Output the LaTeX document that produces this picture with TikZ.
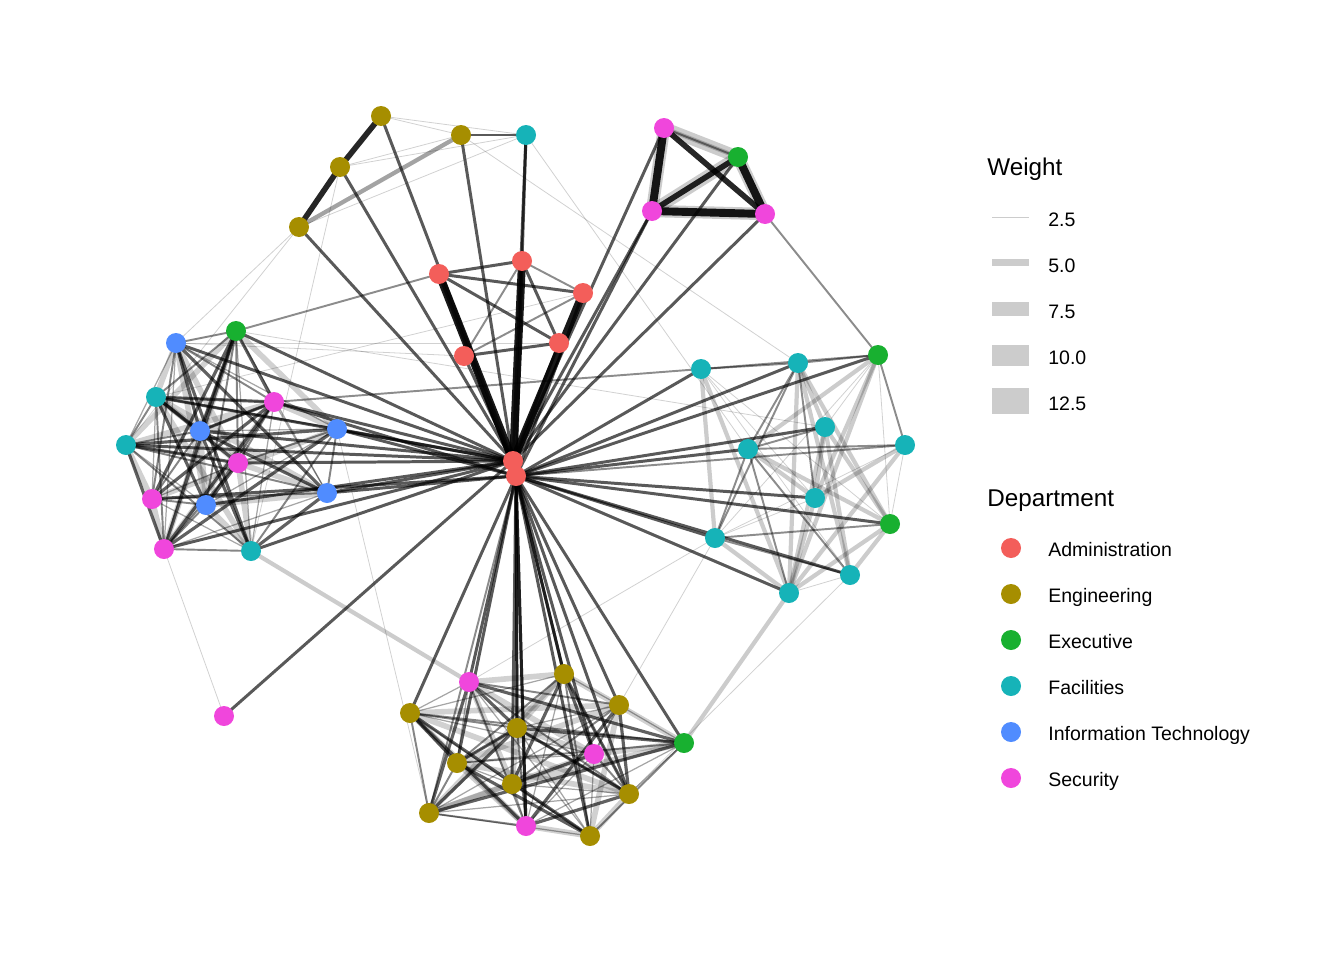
\documentclass[tikz,border=0pt]{standalone}
\usepackage{fontspec}
\setmainfont{Liberation Sans}
\usetikzlibrary{backgrounds}
\definecolor{cadm}{HTML}{F35E5A}
\definecolor{ceng}{HTML}{A68E00}
\definecolor{cexe}{HTML}{18B030}
\definecolor{cfac}{HTML}{16B3B8}
\definecolor{cit}{HTML}{508CFF}
\definecolor{csec}{HTML}{F046DC}
\definecolor{keygrey}{HTML}{CCCCCC}
\tikzset{
 v/.style={circle,inner sep=0pt,minimum size=0.4cm},
 e1/.style={line width=0.45pt,draw=black,draw opacity=0.18},
 e2/.style={line width=1.1pt,draw=black,draw opacity=0.45},
 e3/.style={line width=1.7pt,draw=black,draw opacity=0.65},
 e4/.style={line width=3.2pt,draw=black,draw opacity=0.85},
 e5/.style={line width=4.5pt,draw=black,draw opacity=0.9},
 gw/.style={line width=7pt,draw=black,draw opacity=0.2},
 gm/.style={line width=2.4pt,draw=black,draw opacity=0.2},
 k0/.style={line width=1.8pt,draw=black,draw opacity=0.62},
 k1/.style={line width=1.1pt,draw=black,draw opacity=0.48},
 k2/.style={line width=3.2pt,draw=black,draw opacity=0.18},
 k3/.style={line width=0.7pt,draw=black,draw opacity=0.35},
 lab/.style={anchor=base west,font=\fontsize{11.1}{13}\selectfont,inner sep=0pt},
 ttl/.style={anchor=base west,font=\fontsize{13.8}{16}\selectfont,inner sep=0pt},
}
\begin{document}
\begin{tikzpicture}[x=0.02cm,y=-0.02cm]
\useasboundingbox (0,0) rectangle (1344,960);
% Administration
\node[v,fill=cadm] (A1) at (439,274) {};
\node[v,fill=cadm] (A2) at (522,261) {};
\node[v,fill=cadm] (A3) at (583,293) {};
\node[v,fill=cadm] (A4) at (464,356) {};
\node[v,fill=cadm] (A5) at (559,343) {};
\node[v,fill=cadm] (A6) at (513,461) {};
\node[v,fill=cadm] (A7) at (516,476) {};
% Engineering
\node[v,fill=ceng] (E1) at (381,116) {};
\node[v,fill=ceng] (E2) at (461,135) {};
\node[v,fill=ceng] (E3) at (340,167) {};
\node[v,fill=ceng] (E4) at (299,227) {};
\node[v,fill=ceng] (E5) at (410,713) {};
\node[v,fill=ceng] (E6) at (564,674) {};
\node[v,fill=ceng] (E7) at (619,705) {};
\node[v,fill=ceng] (E8) at (517,728) {};
\node[v,fill=ceng] (E9) at (457,763) {};
\node[v,fill=ceng] (E10) at (512,784) {};
\node[v,fill=ceng] (E11) at (629,794) {};
\node[v,fill=ceng] (E12) at (429,813) {};
\node[v,fill=ceng] (E13) at (590,836) {};
% Executive
\node[v,fill=cexe] (X1) at (738,157) {};
\node[v,fill=cexe] (X2) at (236,331) {};
\node[v,fill=cexe] (X3) at (878,355) {};
\node[v,fill=cexe] (X4) at (890,524) {};
\node[v,fill=cexe] (X5) at (684,743) {};
% Facilities
\node[v,fill=cfac] (F1) at (526,135) {};
\node[v,fill=cfac] (F2) at (701,369) {};
\node[v,fill=cfac] (F3) at (798,363) {};
\node[v,fill=cfac] (F4) at (825,427) {};
\node[v,fill=cfac] (F5) at (905,445) {};
\node[v,fill=cfac] (F6) at (748,449) {};
\node[v,fill=cfac] (F7) at (815,498) {};
\node[v,fill=cfac] (F8) at (715,538) {};
\node[v,fill=cfac] (F9) at (850,575) {};
\node[v,fill=cfac] (F10) at (789,593) {};
\node[v,fill=cfac] (F11) at (156,397) {};
\node[v,fill=cfac] (F12) at (126,445) {};
\node[v,fill=cfac] (F13) at (251,551) {};
% Information Technology
\node[v,fill=cit] (I1) at (176,343) {};
\node[v,fill=cit] (I2) at (200,431) {};
\node[v,fill=cit] (I3) at (337,429) {};
\node[v,fill=cit] (I4) at (327,493) {};
\node[v,fill=cit] (I5) at (206,505) {};
% Security
\node[v,fill=csec] (S1) at (664,128) {};
\node[v,fill=csec] (S2) at (652,211) {};
\node[v,fill=csec] (S3) at (765,214) {};
\node[v,fill=csec] (S4) at (274,402) {};
\node[v,fill=csec] (S5) at (238,463) {};
\node[v,fill=csec] (S6) at (152,499) {};
\node[v,fill=csec] (S7) at (164,549) {};
\node[v,fill=csec] (S8) at (224,716) {};
\node[v,fill=csec] (S9) at (469,682) {};
\node[v,fill=csec] (S10) at (594,754) {};
\node[v,fill=csec] (S11) at (526,826) {};

\begin{scope}[on background layer]
% hub edges
\foreach \n in {A1,A2,A3} {\draw[e5] (A6.center) -- (\n.center); \draw[e3] (A7.center) -- (\n.center);}
\foreach \n in {A4,A5} {\draw[e3] (A6.center) -- (\n.center);}
\foreach \n in {E1,E2,E3,E4,F1,X2,I1,F11,F12,I2,S4,I3,S5,I4,I5,S7,F13,S8,S2,S3,X1,S1}
  {\draw[e3] (A6.center) -- (\n.center);}
\foreach \n in {S6,S2,F2,F3,X3,F4,F6,F7,X4,F8,F9,F10,I3,I4,S4}
  {\draw[e3] (A7.center) -- (\n.center);}
\draw[e2] (A7.center) -- (F5.center);
\foreach \n in {S9,E5,E6,E7,E8,E9,E10,E11,E13,S10,S11,X5,E6,E8,S11}
  {\draw[e3] (A7.center) -- (\n.center);}
\draw[e2] (A7.center) -- (E12.center);
\draw[e2] (A6.center) -- (A7.center);
% admin
\draw[e3] (A1.center) -- (A2.center);
\draw[e3] (A1.center) -- (A3.center);
\draw[e3] (A1.center) -- (A5.center);
\draw[e2] (A2.center) -- (A3.center);
\draw[e2] (A2.center) -- (A4.center);
\draw[e3] (A2.center) -- (A5.center);
\draw[e3] (A4.center) -- (A5.center);
\draw[e2] (A4.center) -- (A3.center);
\draw[e3] (A2.center) -- (F1.center);
\draw[e2] (X2.center) -- (A1.center);
% top left engineering
\draw[e4] (E1.center) -- (E3.center);
\draw[e4] (E3.center) -- (E4.center);
\draw[e1] (E1.center) -- (E2.center);
\draw[e1] (E1.center) -- (F1.center);
\draw[e3] (E2.center) -- (F1.center);
\draw[e1] (E3.center) -- (E2.center);
\draw[e1] (E3.center) -- (F1.center);
\draw[gm] (E4.center) -- (E2.center); \draw[gm] (E4.center) -- (E2.center);
\draw[e1] (E4.center) -- (F1.center);
\draw[e1] (E4.center) -- (I1.center);
\draw[e1] (E4.center) -- (F12.center);
\draw[e1] (E3.center) -- (F13.center);
\draw[e1] (E2.center) -- (F3.center);
\draw[e1] (F1.center) -- (F6.center);
% top right
\draw[gw] (S1.center) -- (S2.center); \draw[e5] (S1.center) -- (S2.center);
\draw[gw] (S1.center) -- (X1.center); \draw[gm] (S1.center) -- (X1.center); \draw[e2] (S1.center) -- (X1.center);
\draw[e4] (S1.center) -- (S3.center);
\draw[gw] (S2.center) -- (X1.center); \draw[e4] (S2.center) -- (X1.center);
\draw[gw] (S2.center) -- (S3.center); \draw[e5] (S2.center) -- (S3.center);
\draw[gw] (X1.center) -- (S3.center); \draw[e5] (X1.center) -- (S3.center);
\draw[e2] (S3.center) -- (X3.center);
% left cluster
\foreach \a [count=\i] in {I1,X2,F11,F12,I2,S4,S5,I3,I4,S6,I5,S7,F13} {
  \foreach \b [count=\j] in {I1,X2,F11,F12,I2,S4,S5,I3,I4,S6,I5,S7,F13} {
    \ifnum\i<\j
      \pgfmathtruncatemacro\r{mod(\i*7+\j*5,4)}
      \draw[k\r] (\a.center) -- (\b.center);
    \fi}}
\draw[k0] (I2.center) -- (S4.center);
\draw[k0] (X2.center) -- (I2.center);
\draw[k0] (F11.center) -- (S4.center);
\draw[k0] (S7.center) -- (S4.center);
\draw[k0] (S5.center) -- (F12.center);
\draw[k0] (F11.center) -- (I2.center);
\draw[k0] (X2.center) -- (S7.center);
\draw[e2] (S4.center) -- (F2.center);
\draw[e1] (I1.center) -- (A4.center);
\draw[e1] (I1.center) -- (A5.center);
\draw[e1] (F11.center) -- (A3.center);
\draw[e1] (X2.center) -- (F4.center);
\draw[e1] (S7.center) -- (S8.center);
\draw[gm] (F13.center) -- (S9.center);
\draw[e1] (I3.center) -- (E12.center);
% bottom cluster
\foreach \a [count=\i] in {S9,E5,E6,E7,E8,E9,E10,E11,E12,E13,S10,S11,X5} {
  \foreach \b [count=\j] in {S9,E5,E6,E7,E8,E9,E10,E11,E12,E13,S10,S11,X5} {
    \ifnum\i<\j
      \pgfmathtruncatemacro\r{mod(\i*5+\j*3,4)}
      \draw[k\r] (\a.center) -- (\b.center);
    \fi}}
\draw[k0] (E5.center) -- (S11.center);
\draw[k0] (E9.center) -- (E8.center);
\draw[k0] (E6.center) -- (E11.center);
\draw[k0] (E8.center) -- (E11.center);
\draw[gm] (X5.center) -- (F10.center);
\draw[e1] (E7.center) -- (F8.center);
\draw[e1] (S9.center) -- (F8.center);
\draw[e1] (E11.center) -- (F9.center);
% right cluster
\draw[e2] (F2.center) -- (F3.center);
\draw[e2] (F2.center) -- (X3.center);
\draw[gm] (F2.center) -- (F10.center);
\draw[e1] (F2.center) -- (F9.center);
\draw[gm] (F2.center) -- (F8.center);
\draw[e1] (F2.center) -- (X4.center);
\draw[e1] (F2.center) -- (F7.center);
\draw[e2] (F3.center) -- (F6.center);
\draw[e2] (F3.center) -- (F8.center);
\draw[e2] (F3.center) -- (F7.center);
\draw[gm] (F3.center) -- (F9.center);
\draw[gm] (F3.center) -- (X4.center);
\draw[gm] (F3.center) -- (F4.center);
\draw[e2] (F3.center) -- (X3.center);
\draw[gm] (F3.center) -- (F10.center);
\draw[e2] (X3.center) -- (F5.center);
\draw[e1] (X3.center) -- (X4.center);
\draw[gm] (X3.center) -- (F6.center);
\draw[gm] (X3.center) -- (F7.center);
\draw[gm] (X3.center) -- (F10.center);
\draw[e1] (X3.center) -- (F8.center);
\draw[e1] (X3.center) -- (F4.center);
\draw[e2] (F4.center) -- (F6.center);
\draw[gm] (F4.center) -- (F7.center);
\draw[gm] (F4.center) -- (X4.center);
\draw[gm] (F4.center) -- (F9.center);
\draw[gm] (F4.center) -- (F10.center);
\draw[e2] (F5.center) -- (F6.center);
\draw[gm] (F5.center) -- (F7.center);
\draw[e1] (F5.center) -- (X4.center);
\draw[gm] (F5.center) -- (F10.center);
\draw[e1] (F5.center) -- (F8.center);
\draw[e2] (F6.center) -- (F8.center);
\draw[e2] (F6.center) -- (F10.center);
\draw[e2] (F6.center) -- (F9.center);
\draw[gm] (F6.center) -- (X4.center);
\draw[gm] (F6.center) -- (F7.center);
\draw[gm] (F7.center) -- (F10.center);
\draw[e1] (F7.center) -- (F8.center);
\draw[e2] (F8.center) -- (F9.center);
\draw[e2] (F8.center) -- (X4.center);
\draw[gm] (F8.center) -- (F10.center);
\draw[gm] (X4.center) -- (F10.center);
\draw[gm] (X4.center) -- (F9.center);
\draw[e1] (F9.center) -- (F10.center);
\end{scope}

% legend: weight
\node[ttl] (wt) at (987,175) {Weight};
\fill[keygrey] (992,216.5) rectangle (1029,217.5);
\fill[keygrey] (992,258.5) rectangle (1029,265.5);
\fill[keygrey] (992,302) rectangle (1029,316);
\fill[keygrey] (992,344.5) rectangle (1029,365.5);
\fill[keygrey] (992,387.5) rectangle (1029,414);
\node[lab] (w1) at (1048,226) {2.5};
\node[lab] (w2) at (1048,272) {5.0};
\node[lab] (w3) at (1048,318) {7.5};
\node[lab] (w4) at (1048,364) {10.0};
\node[lab] (w5) at (1048,410) {12.5};
% legend: department
\node[ttl] (dt) at (987,506) {Department};
\node[v,fill=cadm] (d1) at (1011,548) {};
\node[v,fill=ceng] (d2) at (1011,594) {};
\node[v,fill=cexe] (d3) at (1011,640) {};
\node[v,fill=cfac] (d4) at (1011,686) {};
\node[v,fill=cit] (d5) at (1011,732) {};
\node[v,fill=csec] (d6) at (1011,778) {};
\node[lab] (l1) at (1048,556) {Administration};
\node[lab] (l2) at (1048,602) {Engineering};
\node[lab] (l3) at (1048,648) {Executive};
\node[lab] (l4) at (1048,694) {Facilities};
\node[lab] (l5) at (1048,740) {Information Technology};
\node[lab] (l6) at (1048,786) {Security};
\end{tikzpicture}
\end{document}
